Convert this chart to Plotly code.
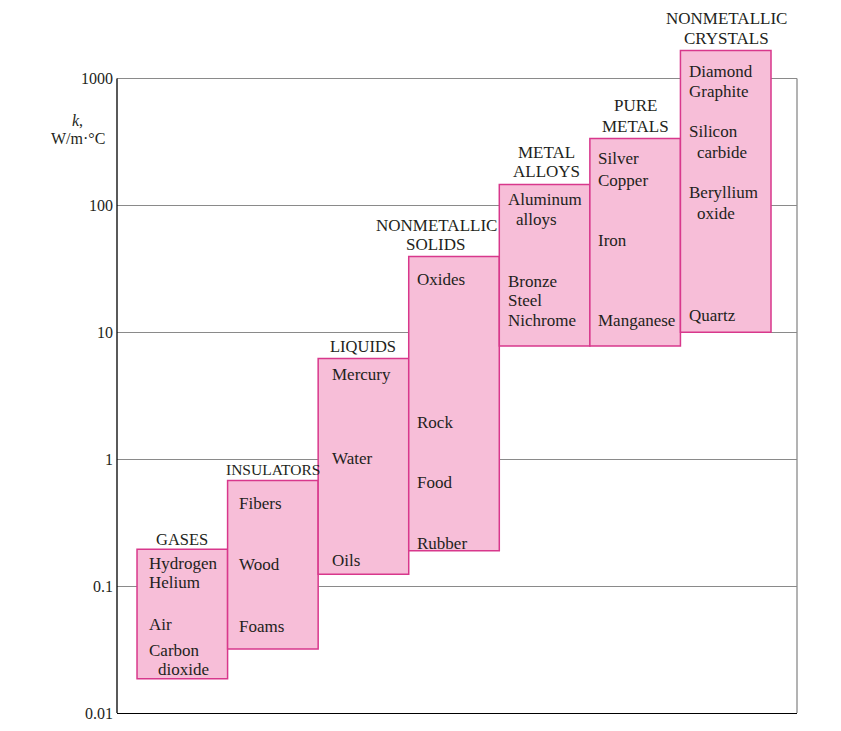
import math
import plotly.graph_objects as go

# ---- data ----
categories = ["GASES", "INSULATORS", "LIQUIDS", "NONMETALLIC SOLIDS",
              "METAL ALLOYS", "PURE METALS", "NONMETALLIC CRYSTALS"]
k_low = [0.0186, 0.032, 0.124, 0.19, 7.8, 7.8, 10.0]
k_high = [0.195, 0.68, 6.2, 39.6, 146, 337, 1660]

# header lines per category: (text, k value)
headers = [
    [("GASES", 0.234)],
    [("INSULATORS", 0.83)],
    [("LIQUIDS", 7.76)],
    [("NONMETALLIC", 69.6), ("SOLIDS", 49.3)],
    [("METAL", 261), ("ALLOYS", 185)],
    [("PURE", 613), ("METALS", 419)],
    [("NONMETALLIC", 2966), ("CRYSTALS", 2065)],
]

# materials per category: (name, k value)
materials = [
    [("Hydrogen", 0.152), ("Helium", 0.107), ("Air", 0.050), ("Carbon", 0.031), ("dioxide", 0.022)],
    [("Fibers", 0.45), ("Wood", 0.149), ("Foams", 0.048)],
    [("Mercury", 4.67), ("Water", 1.02), ("Oils", 0.16)],
    [("Oxides", 26.1), ("Rock", 1.96), ("Food", 0.66), ("Rubber", 0.218)],
    [("Aluminum", 111), ("alloys", 77.6), ("Bronze", 25.2), ("Steel", 17.9), ("Nichrome", 12.4)],
    [("Silver", 234), ("Copper", 157), ("Iron", 53), ("Manganese", 12.4)],
    [("Diamond", 1135), ("Graphite", 790), ("Silicon", 383), ("carbide", 261),
     ("Beryllium", 127), ("oxide", 86.5), ("Quartz", 13.6)],
]
tick_vals = [0.01, 0.1, 1, 10, 100, 1000]
tick_text = ["0.01", "0.1", "1", "10", "100", "1000"]
k_min, k_max = 0.01, 1000

# ---- style ----
FONT = "Liberation Serif"
TXT = "#231F20"
FILL = "#F7BED8"
EDGE = "#D8388C"
GRID = "#8A8A8A"
left_pad = [12, 11, 14, 8, 9, 8, 9]
indent = {"dioxide": 9, "alloys": 8, "carbide": 8, "oxide": 8}
header_shift = [0, 0, 0, -18, 2, 0, 1]
header_size = [16.5, 15.5, 16.5, 17, 17, 17, 17]
LBL = 17

xs = list(range(len(categories)))
fig = go.Figure()
fig.add_trace(go.Bar(
    x=xs, base=k_low, y=[h - l for h, l in zip(k_high, k_low)], width=1,
    marker=dict(color=FILL, line=dict(color=EDGE, width=1.5)),
    hoverinfo="skip", showlegend=False))

ann = []
for i in xs:
    for text, kv in headers[i]:
        ann.append(dict(x=i, y=math.log10(kv), xref="x", yref="y",
                        text=text, showarrow=False, xanchor="center", yanchor="middle",
                        xshift=header_shift[i],
                        font=dict(family=FONT, size=header_size[i], color=TXT)))
    for name, kv in materials[i]:
        ann.append(dict(x=i - 0.5, y=math.log10(kv), xref="x", yref="y",
                        text=name, showarrow=False, xanchor="left", yanchor="middle",
                        xshift=left_pad[i] - 2 + indent.get(name, 0),
                        font=dict(family=FONT, size=LBL, color=TXT)))

ann.append(dict(x=-0.058, y=math.log10(467), xref="paper", yref="y",
                text="<i>k</i>,", showarrow=False, xanchor="center", yanchor="middle",
                font=dict(family=FONT, size=16, color=TXT)))
ann.append(dict(x=-0.058, y=math.log10(337), xref="paper", yref="y",
                text="W/m·°C", showarrow=False, xanchor="center", yanchor="middle",
                font=dict(family=FONT, size=16, color=TXT)))

lo = math.log10(k_min)
fig.update_layout(
    width=841, height=731,
    margin=dict(l=109, r=52, t=0, b=26),
    paper_bgcolor="white", plot_bgcolor="white",
    annotations=ann,
    shapes=[
        dict(type="line", xref="paper", yref="y", x0=1, x1=1, y0=k_min, y1=k_max,
             line=dict(color=GRID, width=1.3), layer="below"),
        dict(type="line", xref="paper", yref="y", x0=0, x1=0, y0=k_min, y1=k_max,
             line=dict(color="black", width=1.3), layer="above"),
    ],
    xaxis=dict(range=[-0.721, 6.787], showgrid=False, zeroline=False,
               showticklabels=False, ticks="", showline=True,
               linecolor="black", linewidth=1.3, fixedrange=True),
    yaxis=dict(type="log", range=[lo, 3.555], tickvals=tick_vals, ticktext=tick_text,
               showgrid=True, gridcolor=GRID, gridwidth=1.3, ticks="",
               ticklabelstandoff=3,
               showline=False, zeroline=False,
               tickfont=dict(family=FONT, size=16, color=TXT), fixedrange=True),
    font=dict(family=FONT, size=16, color=TXT),
)
fig.write_html("out.html")
